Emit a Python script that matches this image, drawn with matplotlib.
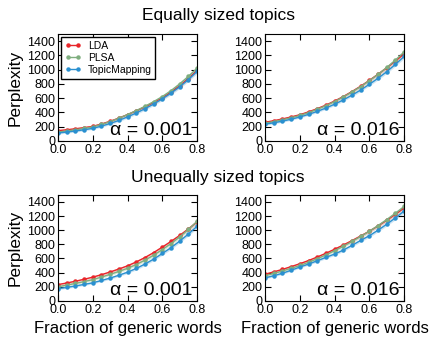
import matplotlib.pyplot as plt

plt.rcParams['font.family'] = ['Liberation Sans', 'DejaVu Sans']

x = [0.0, 0.05, 0.1, 0.15, 0.2, 0.25, 0.3, 0.35, 0.4,
     0.45, 0.5, 0.55, 0.6, 0.65, 0.7, 0.75, 0.8]

methods = ['LDA', 'PLSA', 'TopicMapping']

# equally sized topics, alpha = 0.001
eq_001_lda = [145, 157, 171, 187, 205, 238, 276, 320, 370, 422, 478, 539, 605, 685, 775, 875, 990]
eq_001_plsa = [125, 140, 157, 176, 198, 232, 272, 318, 370, 425, 485, 551, 622, 705, 800, 905, 1020]
eq_001_tm = [112, 125, 140, 157, 177, 208, 245, 288, 338, 392, 452, 518, 590, 670, 760, 860, 975]

# equally sized topics, alpha = 0.016
eq_016_lda = [262, 284, 309, 337, 368, 408, 453, 503, 560, 623, 693, 768, 850, 936, 1026, 1121, 1222]
eq_016_plsa = [250, 272, 297, 326, 358, 398, 444, 495, 553, 617, 688, 763, 846, 934, 1030, 1135, 1248]
eq_016_tm = [235, 255, 278, 305, 336, 373, 415, 462, 516, 576, 643, 715, 795, 880, 972, 1075, 1185]

# unequally sized topics, alpha = 0.001
uneq_001_lda = [230, 252, 277, 305, 335, 370, 408, 450, 495, 550, 612, 682, 760, 840, 925, 1017, 1115]
uneq_001_plsa = [200, 222, 246, 272, 300, 336, 375, 416, 460, 513, 575, 645, 725, 810, 905, 1010, 1125]
uneq_001_tm = [172, 190, 210, 232, 255, 288, 322, 362, 405, 458, 520, 590, 670, 752, 845, 945, 1055]

# unequally sized topics, alpha = 0.016
uneq_016_lda = [375, 410, 445, 484, 525, 570, 620, 673, 730, 790, 852, 918, 985, 1060, 1140, 1225, 1315]
uneq_016_plsa = [355, 388, 422, 460, 500, 545, 595, 650, 710, 772, 840, 912, 985, 1065, 1150, 1240, 1335]
uneq_016_tm = [325, 355, 390, 433, 478, 520, 567, 615, 662, 718, 785, 855, 922, 1000, 1085, 1175, 1270]

# spread of the shaded band around each curve
band = [15, 15, 15, 15, 15, 16, 17, 18, 19, 20, 21, 22, 23, 24, 25, 26, 28]

panels = [
    ((eq_001_lda, eq_001_plsa, eq_001_tm), 'α = 0.001'),
    ((eq_016_lda, eq_016_plsa, eq_016_tm), 'α = 0.016'),
    ((uneq_001_lda, uneq_001_plsa, uneq_001_tm), 'α = 0.001'),
    ((uneq_016_lda, uneq_016_plsa, uneq_016_tm), 'α = 0.016'),
]

colors = ['#e8262a', '#7fae7f', '#2a90d0']
band_colors = ['#f5a0a0', '#bcd8bc', '#9ccbea']

positions = [
    [0.133, 0.589, 0.319, 0.312],
    [0.608, 0.589, 0.319, 0.312],
    [0.133, 0.123, 0.319, 0.309],
    [0.608, 0.123, 0.319, 0.309],
]

fig = plt.figure(figsize=(4.36, 3.43), dpi=100)

for i, (series, label) in enumerate(panels):
    ax = fig.add_axes(positions[i])
    for name, ys, c, bc in zip(methods, series, colors, band_colors):
        lo = [y - b for y, b in zip(ys, band)]
        hi = [y + b for y, b in zip(ys, band)]
        ax.fill_between(x, lo, hi, color=bc, alpha=0.5, linewidth=0)
        ax.plot(x, ys, color=c, marker='o', markersize=2.2, linewidth=1.0,
                label=name)
    ax.set_xlim(0, 0.8)
    ax.set_ylim(0, 1500)
    ax.set_xticks([0.0, 0.2, 0.4, 0.6, 0.8])
    ax.set_yticks(range(0, 1401, 200))
    ax.tick_params(direction='in', top=True, right=True, labelsize=9,
                   length=4, pad=2)
    ax.text(0.965, 0.02, label, transform=ax.transAxes, ha='right',
            va='bottom', fontsize=14)
    if i % 2 == 0:
        ax.set_ylabel('Perplexity', fontsize=12.5, labelpad=3)
    if i >= 2:
        ax.set_xlabel('Fraction of generic words', fontsize=12, labelpad=4)
    if i == 0:
        ax.legend(loc='upper left', fontsize=7.5, handlelength=1.6,
                  numpoints=2, borderpad=0.35, labelspacing=0.2,
                  handletextpad=0.6, borderaxespad=0.3,
                  fancybox=False, framealpha=1, edgecolor='black')

fig.text(0.5, 0.955, 'Equally sized topics', ha='center', va='center', fontsize=12.5)
fig.text(0.5, 0.483, 'Unequally sized topics', ha='center', va='center', fontsize=12.5)

fig.savefig('out.png', dpi=100)
